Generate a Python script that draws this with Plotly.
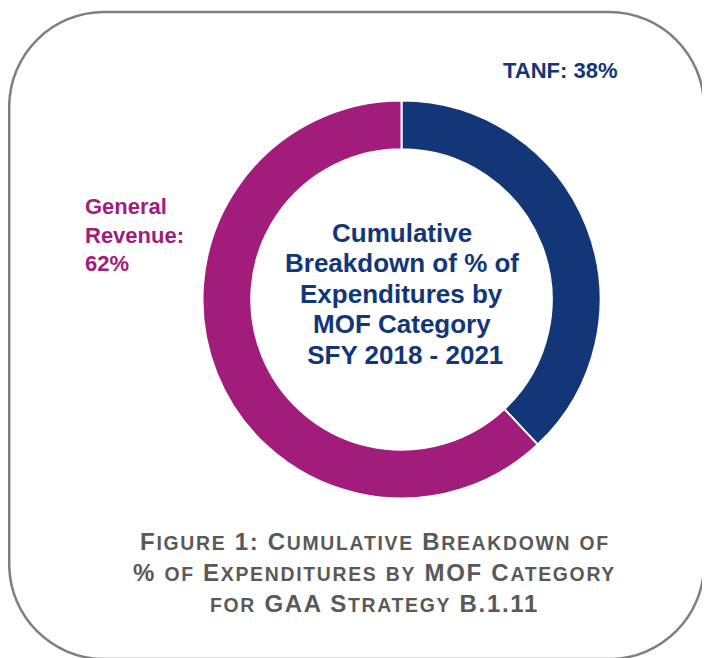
import re
import plotly.graph_objects as go

# --- Data ---
categories = ["TANF", "General Revenue"]
shares = [38, 62]
slice_colors = ["#133679", "#A21C7B"]

center_lines = ["Cumulative", "Breakdown of % of", "Expenditures by",
                "MOF Category", " SFY 2018 - 2021"]
caption_lines = ["Figure 1: Cumulative Breakdown of",
                 "% of Expenditures by MOF Category",
                 "for GAA Strategy B.1.11"]

# --- Layout settings (page pixels; the page body adds an 8px margin) ---
OFF = 8
W, H = 710 - OFF, 658 - OFF
CX, CY, R = 401.5, 299.5, 199
FONT = "Liberation Sans, Arial, sans-serif"


def px(x):
    return (x - OFF) / W


def py(y):
    return 1 - (y - OFF) / H


def small_caps(s, big, small, spacing):
    """Fake small caps: lowercase runs become smaller capitals."""
    out = []
    for run in re.findall(r"[a-z]+|[^a-z]+", s):
        if run.islower():
            out.append(f'<span style="font-size:{small}px;letter-spacing:{spacing}px">{run.upper()}</span>')
        else:
            out.append(f'<span style="font-size:{big}px;letter-spacing:{spacing}px">{run}</span>')
    return "".join(out)


fig = go.Figure()

fig.add_trace(go.Pie(
    labels=categories,
    values=shares,
    sort=False,
    direction="clockwise",
    rotation=0,
    hole=0.755,
    marker=dict(colors=slice_colors, line=dict(color="white", width=2)),
    textinfo="none",
    hoverinfo="label+percent",
    showlegend=False,
    domain=dict(x=[px(CX - R), px(CX + R)], y=[py(CY + R), py(CY - R)]),
))

# Centre title, one annotation per line to keep the tight spacing
for i, line in enumerate(center_lines):
    fig.add_annotation(
        x=px(CX), y=py(233 + i * 30.4), xref="paper", yref="paper",
        text=f"<b>{line}</b>", showarrow=False,
        font=dict(family=FONT, size=26, color="#133679"),
        xanchor="center", yanchor="middle",
    )

# Slice labels
fig.add_annotation(
    x=px(501), y=py(70), xref="paper", yref="paper",
    text=f"<b>{categories[0]}: {shares[0]}%</b>", showarrow=False,
    font=dict(family=FONT, size=22, color=slice_colors[0]),
    xanchor="left", yanchor="middle",
)
fig.add_annotation(
    x=px(83), y=py(235), xref="paper", yref="paper",
    text="<b>General<br>Revenue:<br>%d%%</b>" % shares[1], showarrow=False,
    font=dict(family=FONT, size=22, color=slice_colors[1]),
    xanchor="left", yanchor="middle", align="left",
)

# Caption in small caps
for i, line in enumerate(caption_lines):
    fig.add_annotation(
        x=px(375), y=py(541 + i * 31), xref="paper", yref="paper",
        text="<b>" + small_caps(line, 24, 19.4, 1.7) + "</b>", showarrow=False,
        font=dict(family=FONT, size=24, color="#595959"),
        xanchor="center", yanchor="middle",
    )

# Rounded border
x0, y0, x1, y1, r = 9.2, 12, 704, 659, 95
k = 0.5523 * r
path = (
    f"M {px(x0 + r)} {py(y0)} L {px(x1 - r)} {py(y0)} "
    f"C {px(x1 - r + k)} {py(y0)} {px(x1)} {py(y0 + r - k)} {px(x1)} {py(y0 + r)} "
    f"L {px(x1)} {py(y1 - r)} "
    f"C {px(x1)} {py(y1 - r + k)} {px(x1 - r + k)} {py(y1)} {px(x1 - r)} {py(y1)} "
    f"L {px(x0 + r)} {py(y1)} "
    f"C {px(x0 + r - k)} {py(y1)} {px(x0)} {py(y1 - r + k)} {px(x0)} {py(y1 - r)} "
    f"L {px(x0)} {py(y0 + r)} "
    f"C {px(x0)} {py(y0 + r - k)} {px(x0 + r - k)} {py(y0)} {px(x0 + r)} {py(y0)} Z"
)
fig.add_shape(type="path", path=path, xref="paper", yref="paper",
              line=dict(color="#7F7F7F", width=2.5), layer="below")

fig.update_layout(
    width=W, height=H,
    margin=dict(l=0, r=0, t=0, b=0),
    paper_bgcolor="white", plot_bgcolor="white",
    xaxis=dict(visible=False), yaxis=dict(visible=False),
)

fig.write_html("out.html")
